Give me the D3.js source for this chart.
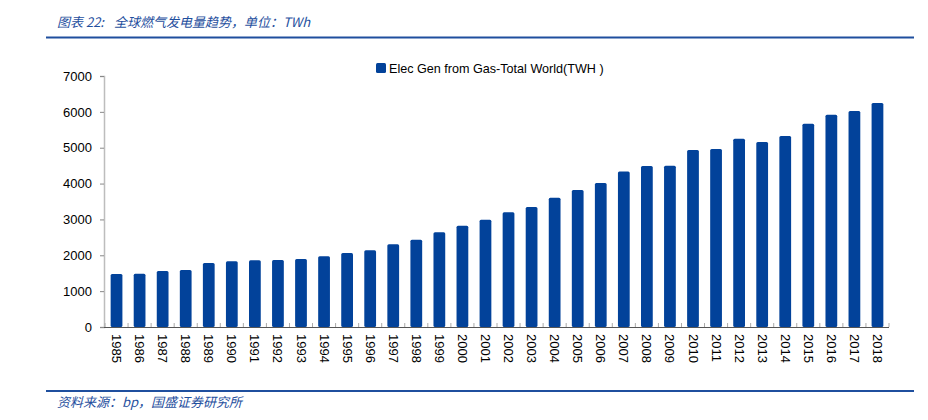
<!DOCTYPE html>
<html lang="zh">
<head>
  <meta charset="UTF-8">
  <title>全球燃气发电量趋势</title>
  <script src="https://d3js.org/d3.v7.min.js"></script>
  <style>
    body { margin: 0; background: #fff; }
    svg { display: block; }
  </style>
</head>
<body>
  <div id="chart"></div>

  <script>
  // data (TWh)
  const years = d3.range(1985, 2019).map(String);
  const gasGen = [1478, 1487, 1561, 1589, 1784, 1831, 1859, 1868, 1896, 1970,
                  2063, 2138, 2305, 2435, 2639, 2825, 2993, 3197, 3346, 3606,
                  3820, 4015, 4340, 4489, 4498, 4935, 4963, 5251, 5158, 5325,
                  5669, 5920, 6022, 6245];
  const yTicks = [0, 1000, 2000, 3000, 4000, 5000, 6000, 7000];
  const seriesName = 'Elec Gen from Gas-Total World(TWH )';
  const titleHead = '图表 22:';
  const titleText = '全球燃气发电量趋势，单位：TWh';
  const sourceText = '资料来源：bp，国盛证券研究所';

  const W = 928, H = 420;
  const plot = { left: 105, right: 889, top: 76, bottom: 327 };
  const barColor = '#02429a';
  const headBlue = '#1f4f9e';
  const cjk = '"Noto Sans CJK SC", sans-serif';
  const latin = '"Liberation Sans", Arial, sans-serif';

  const svg = d3.select('#chart').append('svg')
    .attr('width', W).attr('height', H);

  // header + footer
  const title = svg.append('text')
    .attr('x', 57).attr('y', 27)
    .attr('font-family', cjk).attr('font-size', 13)
    .attr('font-style', 'italic')
    .attr('fill', headBlue);
  title.append('tspan').text(titleHead);
  title.append('tspan').attr('dx', 10).text(titleText);

  svg.append('line')
    .attr('x1', 46).attr('x2', 914).attr('y1', 37.5).attr('y2', 37.5)
    .attr('stroke', headBlue).attr('stroke-width', 2);
  svg.append('line')
    .attr('x1', 46).attr('x2', 914).attr('y1', 391).attr('y2', 391)
    .attr('stroke', headBlue).attr('stroke-width', 2);
  svg.append('text')
    .attr('x', 57).attr('y', 407)
    .attr('font-family', cjk).attr('font-size', 13)
    .attr('font-style', 'italic')
    .attr('fill', headBlue)
    .text(sourceText);

  const x = d3.scaleBand()
    .domain(years)
    .range([plot.left, plot.right])
    .paddingInner(0.49).paddingOuter(0.245);

  const y = d3.scaleLinear()
    .domain([0, 7000])
    .range([plot.bottom, plot.top]);

  // y axis
  const yAxis = svg.append('g')
    .attr('transform', `translate(${plot.left - 1},0)`)
    .call(d3.axisLeft(y).tickValues(yTicks).tickFormat(d3.format('d'))
      .tickSize(4).tickPadding(8));
  yAxis.select('.domain').attr('stroke', '#bdbdbd').attr('stroke-width', 1.5);
  yAxis.selectAll('.tick line').attr('stroke', '#888');
  yAxis.selectAll('text')
    .attr('font-family', latin).attr('font-size', 13).attr('fill', '#000');

  // bars
  svg.append('g').selectAll('rect')
    .data(gasGen)
    .enter().append('rect')
    .attr('x', (d, i) => x(years[i]))
    .attr('y', d => y(d))
    .attr('width', x.bandwidth())
    .attr('height', d => y(0) - y(d))
    .attr('rx', 1.5)
    .attr('fill', barColor);

  // x axis
  const step = x.step();
  const bounds = d3.range(years.length + 1).map(i => plot.left + i * step);
  svg.append('g').selectAll('line')
    .data(bounds)
    .enter().append('line')
    .attr('x1', d => d).attr('x2', d => d)
    .attr('y1', plot.bottom - 4).attr('y2', plot.bottom)
    .attr('stroke', '#aaa');
  svg.append('line')
    .attr('x1', plot.left - 1).attr('x2', plot.right)
    .attr('y1', plot.bottom + 0.5).attr('y2', plot.bottom + 0.5)
    .attr('stroke', '#555').attr('stroke-width', 1.2);

  svg.append('g').selectAll('text')
    .data(years)
    .enter().append('text')
    .attr('transform', d => `translate(${x(d) + x.bandwidth() / 2 - 4.5},${plot.bottom + 7}) rotate(90)`)
    .attr('font-family', latin).attr('font-size', 13)
    .attr('fill', '#000')
    .text(d => d);

  // legend
  const lg = svg.append('g').attr('transform', 'translate(376,63)');
  lg.append('rect')
    .attr('width', 10).attr('height', 10).attr('rx', 1.5)
    .attr('fill', barColor);
  lg.append('text')
    .attr('x', 13).attr('y', 10)
    .attr('font-family', latin).attr('font-size', 12.6)
    .attr('fill', '#000')
    .text(seriesName);
  </script>
</body>
</html>
